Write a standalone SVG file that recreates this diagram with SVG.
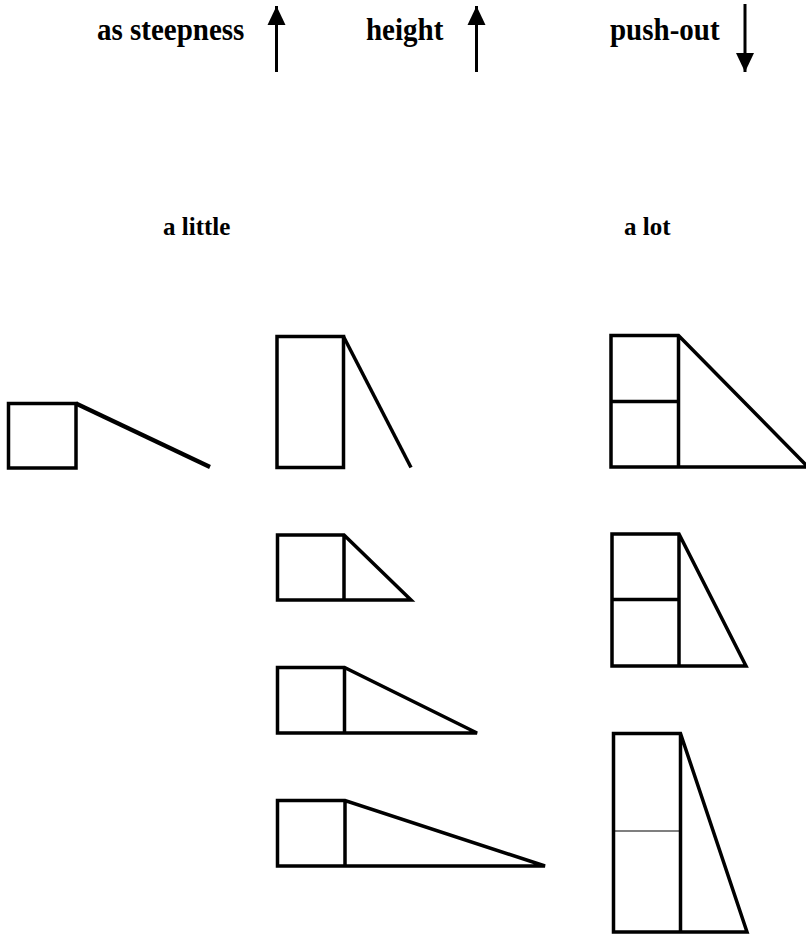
<svg xmlns="http://www.w3.org/2000/svg" width="806" height="934" viewBox="0 0 806 934">
<style>
text{font-family:"Liberation Serif","Times New Roman",serif;font-weight:bold;fill:#000}
.t{font-size:29px}
.s{font-size:25px}
.k{fill:none;stroke:#000;stroke-width:3.5;stroke-linejoin:miter}
.thin{fill:none;stroke:#000;stroke-width:1.2}
.ar{stroke:#000;stroke-width:3}
</style>
<defs>
<marker id="ah" viewBox="0 0 19 18" refX="19" refY="9" markerWidth="19" markerHeight="18" markerUnits="userSpaceOnUse" orient="auto" overflow="visible">
<path d="M0,0 L19,9 L0,18 Z" fill="#000"/>
</marker>
</defs>
<rect width="806" height="934" fill="#fff"/>
<g id="labels">
<text class="t" x="97" y="40" transform="translate(0,40) scale(1,1.08) translate(0,-40)">as steepness</text>
<text class="t" x="366" y="40" transform="translate(0,40) scale(1,1.08) translate(0,-40)">height</text>
<text class="t" x="610" y="40" transform="translate(0,40) scale(1,1.08) translate(0,-40)">push-out</text>
<text class="s" x="163" y="235">a little</text>
<text class="s" x="624" y="235">a lot</text>
</g>
<g id="arrows">
<line class="ar" x1="276.5" y1="72" x2="276.5" y2="6" marker-end="url(#ah)"/>
<line class="ar" x1="476.5" y1="72" x2="476.5" y2="6" marker-end="url(#ah)"/>
<line class="ar" x1="745" y1="4" x2="745" y2="72" marker-end="url(#ah)"/>
</g>
<g id="shape-left">
<rect class="k" x="8.5" y="403.5" width="67.5" height="64.5"/>
<line class="k" x1="76" y1="403.5" x2="210" y2="467" style="stroke-width:4.2"/>
</g>
<g id="shape-tall">
<rect class="k" x="277" y="336.5" width="66.5" height="131"/>
<line class="k" x1="343.5" y1="336.5" x2="411" y2="467.5"/>
</g>
<g id="shape-a">
<path class="k" d="M277.5,600 V535 H344 L411,600 Z M344,535 V600"/>
</g>
<g id="shape-b">
<path class="k" d="M277.5,733 V667.5 H344.5 L477,733 Z M344.5,667.5 V733"/>
</g>
<g id="shape-c">
<path class="k" d="M277.5,866 V800.5 H345 L545,866 Z M345,800.5 V866"/>
</g>
<g id="shape-r1">
<path class="k" d="M611,467 V335.5 H678.5 L808,467 Z M678.5,335.5 V467 M611,401.5 H678.5"/>
</g>
<g id="shape-r2">
<path class="k" d="M612,666 V534 H679 L746,666 Z M679,534 V666 M612,599.5 H679"/>
</g>
<g id="shape-r3">
<path class="k" d="M613.5,932 V733.5 H680.5 L747,932 Z M680.5,733.5 V932"/>
<line class="thin" x1="613.5" y1="831" x2="680.5" y2="831"/>
</g>
</svg>
